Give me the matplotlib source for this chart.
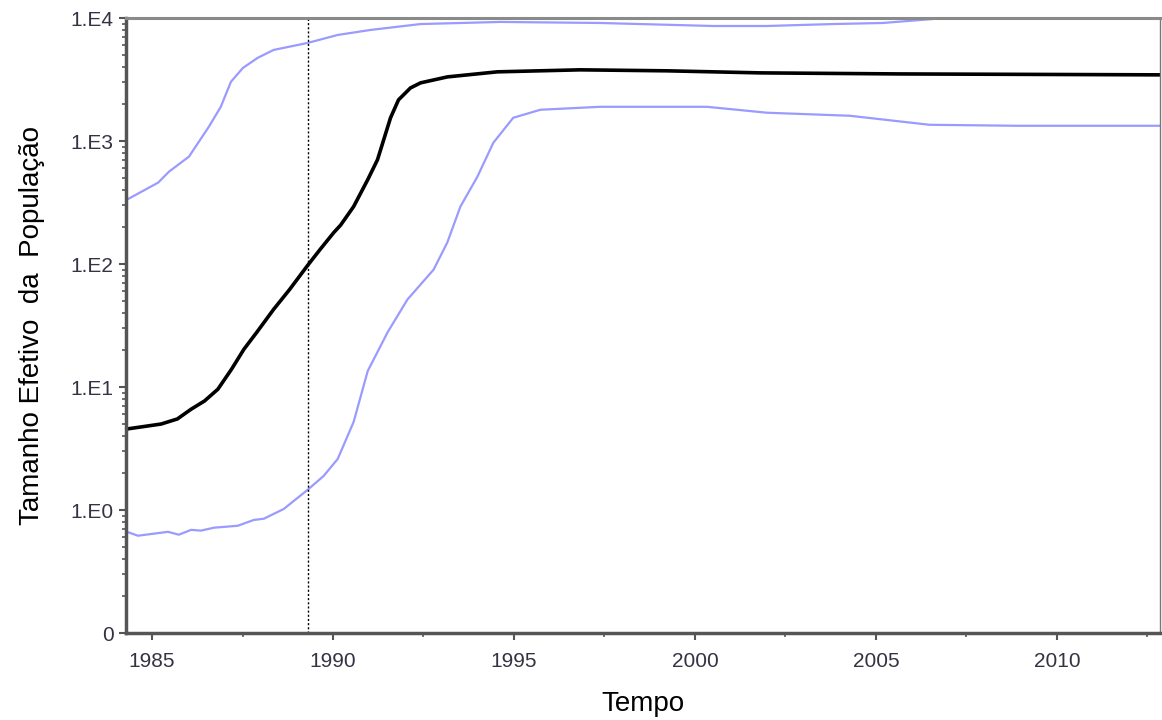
import matplotlib
matplotlib.use("Agg")
from matplotlib import pyplot as plt
from matplotlib.ticker import FixedLocator, LogLocator, NullFormatter

plt.rcParams['font.family'] = ['Liberation Sans', 'DejaVu Sans']

# median Ne (black)
med_years = [1984.31, 1985.25, 1985.70, 1986.08, 1986.45, 1986.82, 1987.20, 1987.54,
             1987.90, 1988.36, 1988.80, 1989.30, 1989.65, 1990.02, 1990.21, 1990.57,
             1990.96, 1991.23, 1991.59, 1991.81, 1992.14, 1992.42, 1993.16, 1994.54,
             1996.83, 1999.23, 2001.80, 2005.66, 2012.83]
med_vals = [4.56, 5.0, 5.5, 6.6, 7.7, 9.6, 14, 20.3,
            28, 42.8, 62, 97.5, 132, 180, 207, 293,
            485, 705, 1545, 2160, 2700, 2970, 3320, 3650,
            3790, 3720, 3580, 3510, 3450]

# upper 95% HPD (blue)
up_years = [1984.31, 1985.17, 1985.47, 1986.02, 1986.57, 1986.90, 1987.18, 1987.51,
            1987.92, 1988.36, 1989.30, 1990.13, 1991.04, 1992.42, 1994.62, 1997.38,
            2000.50, 2001.99, 2003.81, 2005.19, 2006.57, 2007.30, 2012.83]
up_vals = [334, 459, 564, 746, 1306, 1897, 3030, 3925,
           4745, 5500, 6270, 7280, 8000, 8930, 9290, 9110,
           8610, 8610, 8930, 9110, 9810, 10190, 10300]

# lower 95% HPD (blue)
low_years = [1984.31, 1984.61, 1985.44, 1985.74, 1986.08, 1986.35, 1986.71, 1987.37,
             1987.81, 1988.09, 1988.64, 1989.30, 1989.74, 1990.13, 1990.57, 1990.96,
             1991.51, 1992.06, 1992.78, 1993.16, 1993.52, 1993.99, 1994.43, 1994.98,
             1995.73, 1997.38, 2000.33, 2001.99, 2004.28, 2006.48, 2008.88, 2012.83]
low_vals = [0.665, 0.618, 0.665, 0.63, 0.69, 0.68, 0.718, 0.745,
            0.83, 0.85, 1.02, 1.46, 1.89, 2.6, 5.2, 13.5,
            27.9, 51.6, 90, 150, 293, 513, 968, 1545,
            1795, 1897, 1897, 1698, 1604, 1355, 1330, 1330]

root_year = 1989.30
x_ticks = [1985, 1990, 1995, 2000, 2005, 2010]
y_ticks = [0.1, 1, 10, 100, 1000, 10000]
y_labels = ["0", "1.E0", "1.E1", "1.E2", "1.E3", "1.E4"]

fig = plt.figure(figsize=(11.62, 7.2), dpi=100)
ax = fig.add_axes([0.1084, 0.1208, 0.8899, 0.8542])

ax.plot(up_years, up_vals, color="#9a9aff", lw=1.6, solid_joinstyle="round")
ax.plot(low_years, low_vals, color="#9a9aff", lw=1.6, solid_joinstyle="round")
ax.plot(med_years, med_vals, color="black", lw=2.6, solid_joinstyle="round")
ax.axvline(root_year, color="black", lw=1, ls=(0, (1.5, 1.5)))

ax.set_yscale("log")
ax.set_xlim(1984.28, 2012.85)
ax.set_ylim(0.1, 10000)
ax.yaxis.set_major_locator(FixedLocator(y_ticks))
ax.set_yticklabels(y_labels)
ax.yaxis.set_minor_locator(LogLocator(base=10, subs=range(2, 10)))
ax.yaxis.set_minor_formatter(NullFormatter())
ax.set_xticks(x_ticks)
ax.set_xticks([1987.5, 1992.5, 1997.5, 2002.5, 2007.5, 2012.5], minor=True)

for s in ["left", "bottom"]:
    ax.spines[s].set_linewidth(2.5)
    ax.spines[s].set_color("#555555")
ax.spines["top"].set_linewidth(2.2)
ax.spines["top"].set_color("#8a8a8a")
ax.spines["right"].set_linewidth(1)
ax.spines["right"].set_color("#777777")

ax.tick_params(axis="both", which="major", length=5, width=1.5, color="#555555",
               labelsize=15, labelcolor="#333344", pad=4)
ax.tick_params(axis="both", which="minor", length=3, width=1.2, color="#555555")
ax.tick_params(axis="x", pad=9)

ax.set_xlabel("Tempo", fontsize=20, labelpad=14)
ax.set_ylabel("Tamanho Efetivo  da  População", fontsize=20, labelpad=18)

fig.savefig("out.png", dpi=100)
